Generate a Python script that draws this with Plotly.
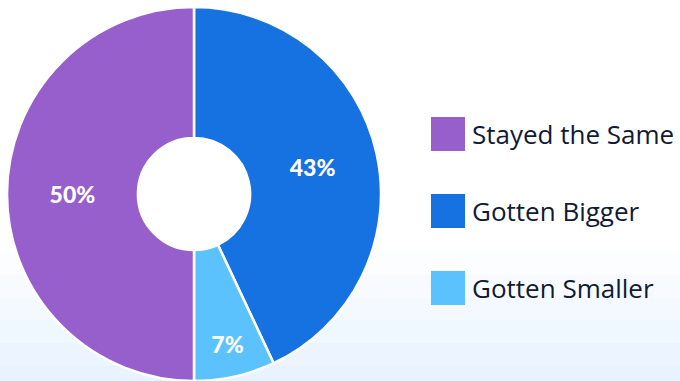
import plotly.graph_objects as go

# Data
labels = ["Gotten Bigger", "Gotten Smaller", "Stayed the Same"]
values = [43, 7, 50]
colors = ["#1672e0", "#5bc2fe", "#975fcc"]
legend_order = ["Stayed the Same", "Gotten Bigger", "Gotten Smaller"]

W, H = 680, 381
color_map = dict(zip(labels, colors))

fig = go.Figure(go.Pie(
    labels=labels,
    values=values,
    hole=0.3,
    sort=False,
    direction="clockwise",
    rotation=0,
    marker=dict(colors=colors, line=dict(color="white", width=2.5)),
    texttemplate="%{value}%",
    textposition="inside",
    insidetextorientation="horizontal",
    textfont=dict(family="Lato", size=23, color="white", weight=900),
    domain=dict(x=[7 / W, 381 / W], y=[0, 374 / H]),
    showlegend=False,
))

shapes = []
# faint cloud-like background at bottom
for i in range(6):
    shapes.append(dict(type="rect", xref="paper", yref="paper", layer="below",
                       x0=0, x1=1, y0=0, y1=0.04 + i * 0.06,
                       fillcolor="rgba(205,228,248,0.07)", line=dict(width=0)))

annotations = []
sq = 34
y_centers = [134, 211, 288]
for name, yc in zip(legend_order, y_centers):
    shapes.append(dict(type="rect", xref="paper", yref="paper",
                       x0=431 / W, x1=(431 + sq) / W,
                       y0=1 - (yc + sq / 2) / H, y1=1 - (yc - sq / 2) / H,
                       fillcolor=color_map[name], line=dict(width=0)))
    annotations.append(dict(text=name, xref="paper", yref="paper",
                            x=470 / W, y=1 - yc / H, xanchor="left", yanchor="middle",
                            showarrow=False,
                            font=dict(family="Open Sans", size=26, color="#0f1a33")))

fig.update_layout(
    width=W, height=H,
    margin=dict(l=0, r=0, t=0, b=0),
    paper_bgcolor="white",
    plot_bgcolor="white",
    shapes=shapes,
    annotations=annotations,
)

fig.write_html("out.html")
